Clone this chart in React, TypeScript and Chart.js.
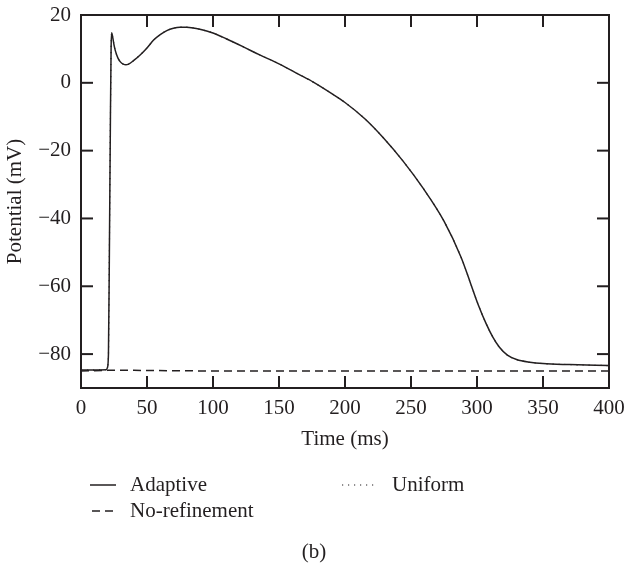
import React, { useEffect, useRef } from 'react';
import { Chart, registerables } from 'chart.js';

Chart.register(...registerables);

// ---- data ----
const timeAdaptive = [0, 10, 19, 20, 20.8, 21.5, 22.3, 22.8, 23.2, 24, 25, 26, 28, 30, 32, 34, 36, 40, 45, 50, 55, 60, 65, 70, 75, 80, 85, 90, 100, 110, 123, 135, 150, 165, 176, 190, 200, 215, 229, 244, 259, 275, 288, 295, 301, 307, 312, 317, 323, 330, 340, 350, 370, 400];
const vAdaptive = [-84.7, -84.7, -84.6, -84, -80, -50, -10, 10, 14.8, 13.5, 11.2, 9.5, 7.3, 6.1, 5.5, 5.3, 5.5, 6.6, 8.3, 10.3, 12.6, 14.2, 15.4, 16.1, 16.4, 16.4, 16.2, 15.8, 14.7, 13.0, 10.6, 8.3, 5.6, 2.5, 0.2, -3.2, -5.8, -10.6, -16.2, -23.1, -31.0, -40.8, -51.5, -59.0, -65.5, -71.1, -75, -78, -80.3, -81.6, -82.4, -82.8, -83.1, -83.4];
const timeUniform = timeAdaptive;
const vUniform = vAdaptive;
const timeNoRefinement = [0, 20, 40, 100, 400];
const vNoRefinement = [-85, -84.8, -84.8, -85, -85];

const xTicks = [0, 50, 100, 150, 200, 250, 300, 350, 400];
const yTicks = [-80, -60, -40, -20, 0, 20];

const INK = '#231f20';
const FONT = "'Liberation Serif', 'DejaVu Serif', serif";
const FS = 21;

const toPts = (xs: number[], ys: number[]) => xs.map((x, i) => ({ x, y: ys[i] }));

const framePlugin = {
  id: 'frameAndLegend',
  afterDraw(chart: any) {
    const { ctx, chartArea: a, scales } = chart;
    const x = scales.x;
    const y = scales.y;
    ctx.save();
    ctx.strokeStyle = INK;
    ctx.lineWidth = 2;
    ctx.setLineDash([]);
    ctx.strokeRect(a.left, a.top, a.right - a.left, a.bottom - a.top);
    const L = 12;
    const seg = (x1: number, y1: number, x2: number, y2: number) => {
      ctx.beginPath();
      ctx.moveTo(x1, y1);
      ctx.lineTo(x2, y2);
      ctx.stroke();
    };
    x.ticks.forEach((t: any) => {
      const px = x.getPixelForValue(t.value);
      seg(px, a.bottom, px, a.bottom - L);
      seg(px, a.top, px, a.top + L);
    });
    y.ticks.forEach((t: any) => {
      const py = y.getPixelForValue(t.value);
      seg(a.left, py, a.left + L, py);
      seg(a.right, py, a.right - L, py);
    });

    // legend
    const ds = chart.data.datasets;
    ctx.font = `${FS}px ${FONT}`;
    ctx.fillStyle = INK;
    ctx.textBaseline = 'middle';
    ctx.textAlign = 'left';
    const items = [
      { d: ds[0], x0: 90, x1: 116, tx: 130, ty: 485 },
      { d: ds[1], x0: 342, x1: 378, tx: 392, ty: 485 },
      { d: ds[2], x0: 92, x1: 116, tx: 130, ty: 511 },
    ];
    items.forEach((it) => {
      ctx.lineWidth = it.d.borderWidth;
      ctx.setLineDash(it.d.borderDash || []);
      seg(it.x0, it.ty, it.x1, it.ty);
      ctx.setLineDash([]);
      ctx.fillText(it.d.label, it.tx, it.ty);
    });
    ctx.textAlign = 'center';
    ctx.fillText('(b)', 314, 552);
    ctx.restore();
  },
};

export default function App() {
  const ref = useRef<HTMLCanvasElement>(null);
  useEffect(() => {
    if (!ref.current) return;
    Chart.defaults.font.family = FONT;
    Chart.defaults.font.size = FS;
    Chart.defaults.color = INK;
    const chart = new Chart(ref.current, {
      type: 'line',
      data: {
        datasets: [
          {
            label: 'Adaptive',
            data: toPts(timeAdaptive, vAdaptive),
            borderColor: INK,
            borderWidth: 1.5,
            pointRadius: 0,
            cubicInterpolationMode: 'monotone',
            fill: false,
          },
          {
            label: 'Uniform',
            data: toPts(timeUniform, vUniform),
            borderColor: INK,
            borderWidth: 1.2,
            borderDash: [1.2, 4.8],
            pointRadius: 0,
            cubicInterpolationMode: 'monotone',
            fill: false,
          },
          {
            label: 'No-refinement',
            data: toPts(timeNoRefinement, vNoRefinement),
            borderColor: INK,
            borderWidth: 1.5,
            borderDash: [8, 5],
            pointRadius: 0,
            fill: false,
          },
        ],
      },
      options: {
        animation: false,
        responsive: false,
        layout: { padding: { left: 0, right: 19, top: 15, bottom: 113 } },
        plugins: { legend: { display: false }, tooltip: { enabled: false } },
        scales: {
          x: {
            type: 'linear',
            min: 0,
            max: 400,
            afterBuildTicks: (s: any) => { s.ticks = xTicks.map((v) => ({ value: v })); },
            afterFit: (s: any) => { s.height = 64; s.paddingLeft = 0; s.paddingRight = 0; },
            grid: { display: false, drawTicks: false },
            border: { display: false },
            ticks: { padding: 8, maxRotation: 0, autoSkip: false, color: INK, font: { size: FS, family: FONT }, callback: (v: any) => String(v) },
            title: { display: true, text: 'Time (ms)', color: INK, font: { size: FS, family: FONT }, padding: { top: 0, bottom: 0 } },
          },
          y: {
            type: 'linear',
            min: -90,
            max: 20,
            afterBuildTicks: (s: any) => { s.ticks = yTicks.map((v) => ({ value: v })); },
            afterFit: (s: any) => { s.width = 81; s.paddingTop = 0; s.paddingBottom = 0; },
            grid: { display: false, drawTicks: false },
            border: { display: false },
            ticks: { padding: 10, color: INK, font: { size: FS, family: FONT }, callback: (v: any) => (v < 0 ? '\u2212' + Math.abs(v) : String(v)) },
            title: { display: true, text: 'Potential (mV)', color: INK, font: { size: FS, family: FONT }, padding: { top: 3, bottom: 0 } },
          },
        },
      },
      plugins: [framePlugin],
    } as any);
    return () => chart.destroy();
  }, []);
  return (
    <div style={{ position: 'fixed', left: 0, top: 0, width: 628, height: 565, background: '#fff' }}>
      <canvas ref={ref} width={628} height={565} style={{ display: 'block' }} />
    </div>
  );
}
